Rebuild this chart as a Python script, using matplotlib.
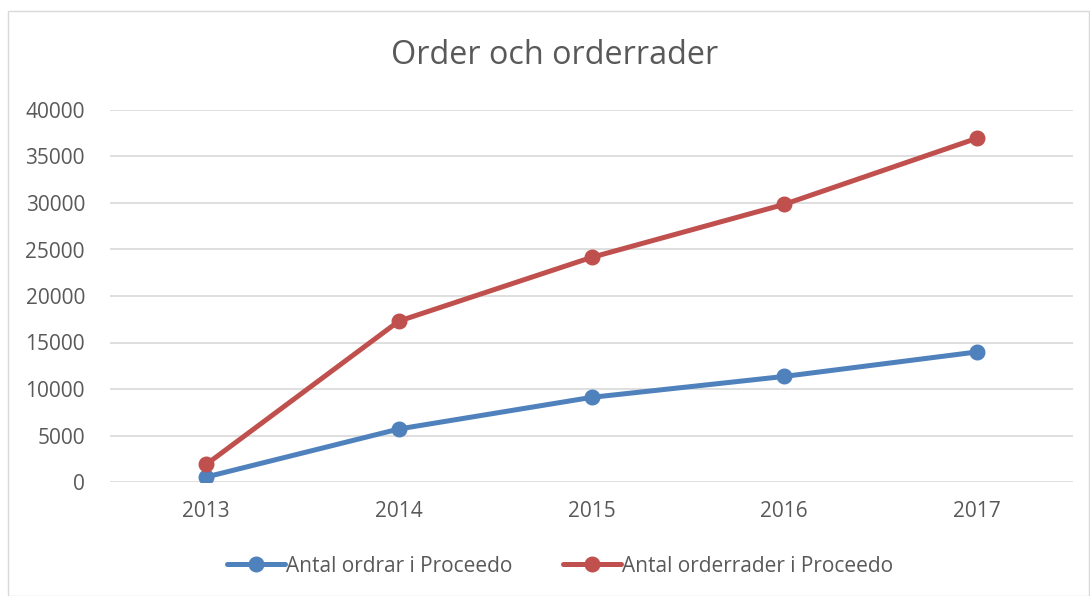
import numpy as np
import matplotlib.pyplot as plt
from matplotlib.patches import Rectangle

# data
years = ['2013', '2014', '2015', '2016', '2017']
ordrar = [540, 5700, 9100, 11350, 13980]
orderrader = [1900, 17300, 24150, 29850, 36950]

blue = '#4F81BD'
red = '#C0504D'
grey_txt = '#595959'

plt.rcParams['font.family'] = ['Open Sans', 'DejaVu Sans']

fig = plt.figure(figsize=(10.9, 5.96), dpi=100)
ax = fig.add_axes([110/1090, 1 - 482/596, (1073 - 110)/1090, (482 - 110)/596])

x = np.arange(len(years))
ax.plot(x, ordrar, color=blue, lw=3.6, marker='o', ms=10.5,
        label='Antal ordrar i Proceedo', solid_capstyle='round', zorder=3)
ax.plot(x, orderrader, color=red, lw=3.6, marker='o', ms=10.5,
        label='Antal orderrader i Proceedo', solid_capstyle='round', zorder=3)

ax.set_xlim(-0.5, len(years) - 0.5)
ax.set_ylim(0, 40000)
ax.set_yticks(np.arange(0, 40001, 5000))
ax.set_xticks(x)
ax.set_xticklabels(years)
ax.grid(axis='y', color='#D9D9D9', lw=1.2)
ax.set_axisbelow(True)
for s in ax.spines.values():
    s.set_visible(False)
ax.tick_params(length=0, labelsize=15, colors=grey_txt)
ax.tick_params(axis='y', pad=18)
ax.tick_params(axis='x', pad=14)

fig.text(555/1090, 1 - 56/596, 'Order och orderrader', ha='center', va='center',
         fontsize=23.3, color=grey_txt)

leg = fig.legend(loc='center', bbox_to_anchor=(560/1090, 1 - 566/596), ncol=2,
                 frameon=False, fontsize=15, handlelength=2.8, handletextpad=0.05,
                 columnspacing=2.4)
for t in leg.get_texts():
    t.set_color(grey_txt)

# chart border
fig.patches.append(Rectangle((8/1090, 0), 1 - 8/1090 - 0.001, 1 - 11/596, transform=fig.transFigure,
                             fill=False, edgecolor='#D9D9D9', lw=1))

fig.savefig('out.png', dpi=100)
